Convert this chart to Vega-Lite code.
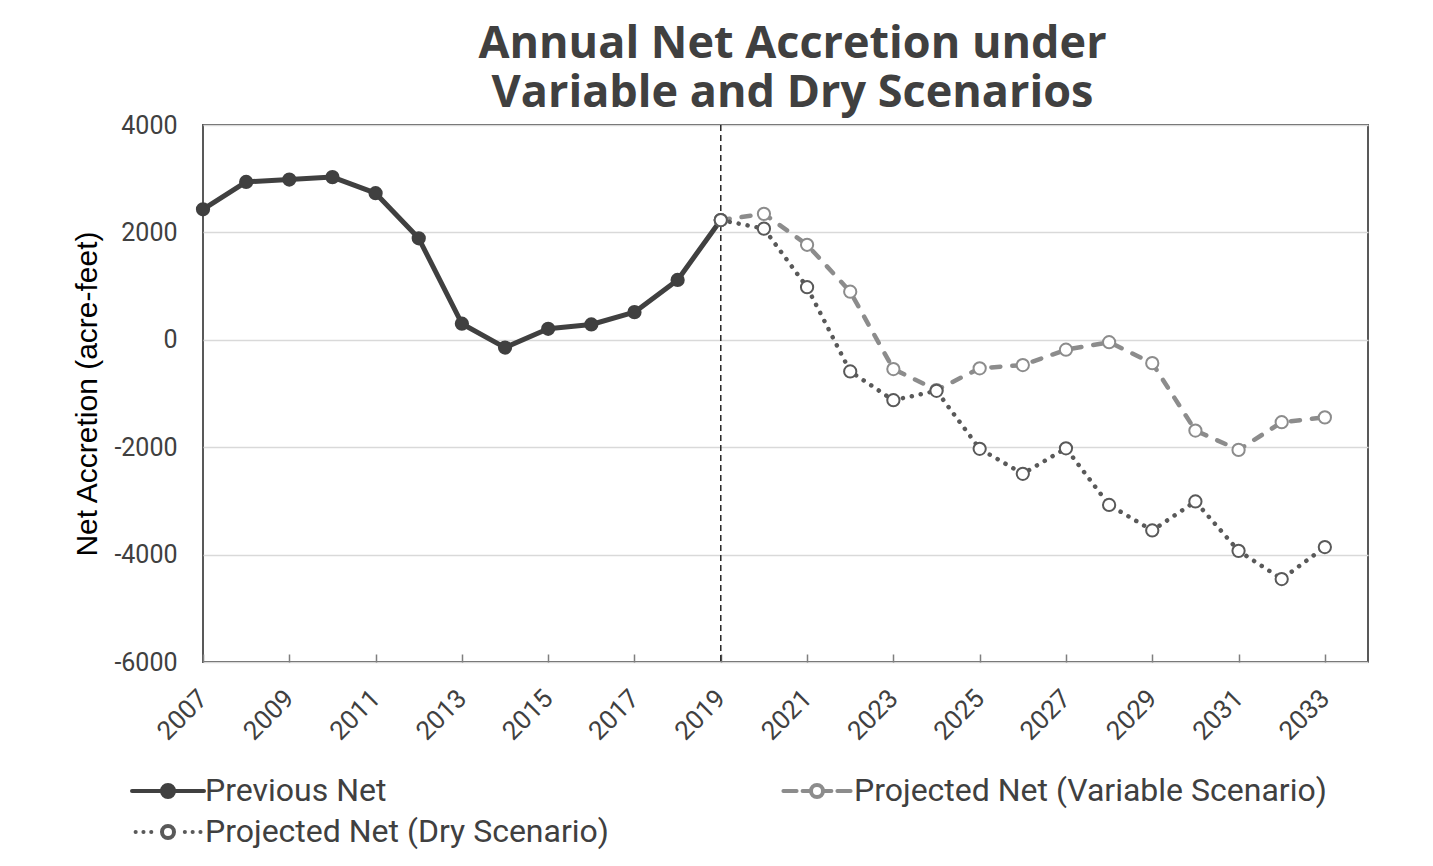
{
  "$schema": "https://vega.github.io/schema/vega-lite/v6.json",
  "width": 1165,
  "height": 537,
  "autosize": {"type": "none"},
  "padding": {"left": 203, "top": 125, "right": 65, "bottom": 204},
  "background": "#ffffff",
  "title": {
    "text": ["Annual Net Accretion under", "Variable and Dry Scenarios"],
    "font": "Open Sans",
    "fontSize": 45,
    "fontWeight": "bold",
    "color": "#404040",
    "lineHeight": 49,
    "anchor": "middle",
    "dx": 7,
    "offset": -3
  },
  "config": {
    "font": "Roboto",
    "view": {"stroke": "#595959", "strokeWidth": 2}
  },
  "layer": [
    {
      "data": {"values": [{"year": 2019}]},
      "mark": {"type": "rule", "color": "#262626", "strokeWidth": 1.5, "strokeDash": [6, 4]},
      "encoding": {
        "x": {"field": "year", "type": "quantitative", "scale": {"domain": [2007, 2034], "nice": false, "zero": false}}
      }
    },
    {
      "data": {"name": "main", "values": [
        {"year": 2007, "series": "Previous Net", "value": 2430},
        {"year": 2008, "series": "Previous Net", "value": 2940},
        {"year": 2009, "series": "Previous Net", "value": 2985},
        {"year": 2010, "series": "Previous Net", "value": 3030},
        {"year": 2011, "series": "Previous Net", "value": 2730},
        {"year": 2012, "series": "Previous Net", "value": 1890},
        {"year": 2013, "series": "Previous Net", "value": 300},
        {"year": 2014, "series": "Previous Net", "value": -145},
        {"year": 2015, "series": "Previous Net", "value": 205},
        {"year": 2016, "series": "Previous Net", "value": 285},
        {"year": 2017, "series": "Previous Net", "value": 515},
        {"year": 2018, "series": "Previous Net", "value": 1115},
        {"year": 2019, "series": "Previous Net", "value": 2230},
        {"year": 2019, "series": "Projected Net (Variable Scenario)", "value": 2230},
        {"year": 2020, "series": "Projected Net (Variable Scenario)", "value": 2345},
        {"year": 2021, "series": "Projected Net (Variable Scenario)", "value": 1770},
        {"year": 2022, "series": "Projected Net (Variable Scenario)", "value": 895},
        {"year": 2023, "series": "Projected Net (Variable Scenario)", "value": -545},
        {"year": 2024, "series": "Projected Net (Variable Scenario)", "value": -935},
        {"year": 2025, "series": "Projected Net (Variable Scenario)", "value": -530},
        {"year": 2026, "series": "Projected Net (Variable Scenario)", "value": -470},
        {"year": 2027, "series": "Projected Net (Variable Scenario)", "value": -185},
        {"year": 2028, "series": "Projected Net (Variable Scenario)", "value": -45},
        {"year": 2029, "series": "Projected Net (Variable Scenario)", "value": -435},
        {"year": 2030, "series": "Projected Net (Variable Scenario)", "value": -1690},
        {"year": 2031, "series": "Projected Net (Variable Scenario)", "value": -2050},
        {"year": 2032, "series": "Projected Net (Variable Scenario)", "value": -1535},
        {"year": 2033, "series": "Projected Net (Variable Scenario)", "value": -1445},
        {"year": 2019, "series": "Projected Net (Dry Scenario)", "value": 2230},
        {"year": 2020, "series": "Projected Net (Dry Scenario)", "value": 2070},
        {"year": 2021, "series": "Projected Net (Dry Scenario)", "value": 980},
        {"year": 2022, "series": "Projected Net (Dry Scenario)", "value": -590},
        {"year": 2023, "series": "Projected Net (Dry Scenario)", "value": -1125},
        {"year": 2024, "series": "Projected Net (Dry Scenario)", "value": -950},
        {"year": 2025, "series": "Projected Net (Dry Scenario)", "value": -2030},
        {"year": 2026, "series": "Projected Net (Dry Scenario)", "value": -2495},
        {"year": 2027, "series": "Projected Net (Dry Scenario)", "value": -2020},
        {"year": 2028, "series": "Projected Net (Dry Scenario)", "value": -3075},
        {"year": 2029, "series": "Projected Net (Dry Scenario)", "value": -3550},
        {"year": 2030, "series": "Projected Net (Dry Scenario)", "value": -3010},
        {"year": 2031, "series": "Projected Net (Dry Scenario)", "value": -3930},
        {"year": 2032, "series": "Projected Net (Dry Scenario)", "value": -4455},
        {"year": 2033, "series": "Projected Net (Dry Scenario)", "value": -3860}
      ]},
      "encoding": {
        "x": {
          "field": "year", "type": "quantitative",
          "scale": {"domain": [2007, 2034], "nice": false, "zero": false},
          "axis": {
            "title": null,
            "values": [2007, 2009, 2011, 2013, 2015, 2017, 2019, 2021, 2023, 2025, 2027, 2029, 2031, 2033],
            "format": "d",
            "labelAngle": -45,
            "labelAlign": "right",
            "labelBaseline": "middle",
            "labelFlush": false,
            "labelFont": "Roboto",
            "labelFontSize": 26,
            "labelColor": "#404040",
            "labelPadding": 40,
            "tickSize": -8,
            "tickColor": "#7f7f7f",
            "tickWidth": 1.5,
            "domain": false,
            "grid": false
          }
        },
        "y": {
          "field": "value", "type": "quantitative",
          "scale": {"domain": [-6000, 4000], "nice": false},
          "axis": {
            "title": "Net Accretion (acre-feet)",
            "titleFont": "Liberation Sans",
            "titleFontSize": 30,
            "titleFontWeight": "normal",
            "titleColor": "#000000",
            "titlePadding": 11,
            "values": [-6000, -4000, -2000, 0, 2000, 4000],
            "labelExpr": "datum.value < 0 ? '-' + format(-datum.value, 'd') : format(datum.value, 'd')",
            "labelFont": "Roboto",
            "labelFontSize": 25,
            "labelColor": "#404040",
            "labelPadding": 26,
            "ticks": false,
            "domain": false,
            "grid": true,
            "gridColor": "#d9d9d9",
            "gridWidth": 1.5
          }
        },
        "stroke": {
          "field": "series", "type": "nominal", "sort": null,
          "scale": {"domain": ["Previous Net", "Projected Net (Variable Scenario)", "Projected Net (Dry Scenario)"], "range": ["#404040", "#8c8c8c", "#595959"]},
          "legend": {
            "title": null,
            "values": ["Previous Net", "Projected Net (Dry Scenario)", "Projected Net (Variable Scenario)"],
            "orient": "none",
            "legendX": -75,
            "legendY": 650,
            "columns": 2,
            "columnPadding": 166,
            "rowPadding": 9,
            "padding": 0,
            "symbolSize": 576,
            "symbolOffset": 24,
            "symbolStrokeWidth": 4,
            "labelOffset": 21,
            "labelFont": "Roboto",
            "labelFontSize": 32,
            "labelColor": "#404040",
            "labelLimit": 800,
            "encode": {
              "symbols": {
                "update": {
                  "shape": {"signal": "datum.value === 'Previous Net' ? 'M-3,0H-0.5M0.5,0H3M0.5,0A0.5,0.5,0,1,1,-0.5,0A0.5,0.5,0,1,1,0.5,0' : datum.value === 'Projected Net (Variable Scenario)' ? 'M-2.8,0H-1.7M-1.2,0H-0.5M0.5,0H1.2M1.7,0H2.8M0.5,0A0.5,0.5,0,1,1,-0.5,0A0.5,0.5,0,1,1,0.5,0' : 'M-2.7,0h0.01M-2.05,0h0.01M-1.4,0h0.01M1.4,0h0.01M2.05,0h0.01M2.7,0h0.01M0.5,0A0.5,0.5,0,1,1,-0.5,0A0.5,0.5,0,1,1,0.5,0'"},
                  "fill": {"signal": "datum.value === 'Previous Net' ? '#404040' : '#ffffff'"},
                  "strokeCap": {"value": "round"},
                  "strokeWidth": {"value": 4},
                  "opacity": {"value": 1}
                }
              }
            }
          }
        }
      },
      "layer": [
        {
          "transform": [{"filter": "datum.series === 'Previous Net'"}],
          "mark": {"type": "line", "strokeWidth": 5, "strokeJoin": "round"}
        },
        {
          "transform": [{"filter": "datum.series === 'Projected Net (Variable Scenario)'"}],
          "mark": {"type": "line", "strokeWidth": 4.5, "strokeCap": "round", "strokeDash": [9, 12]}
        },
        {
          "transform": [{"filter": "datum.series === 'Projected Net (Dry Scenario)'"}],
          "mark": {"type": "line", "strokeWidth": 4.5, "strokeCap": "round", "strokeDash": [0.1, 9]}
        },
        {
          "mark": {"type": "point", "shape": "circle", "filled": true, "size": 150, "strokeWidth": 2, "opacity": 1},
          "encoding": {
            "fill": {
              "field": "series", "type": "nominal",
              "scale": {"domain": ["Previous Net", "Projected Net (Variable Scenario)", "Projected Net (Dry Scenario)"], "range": ["#404040", "#ffffff", "#ffffff"]},
              "legend": null
            }
          }
        }
      ]
    }
  ]
}
